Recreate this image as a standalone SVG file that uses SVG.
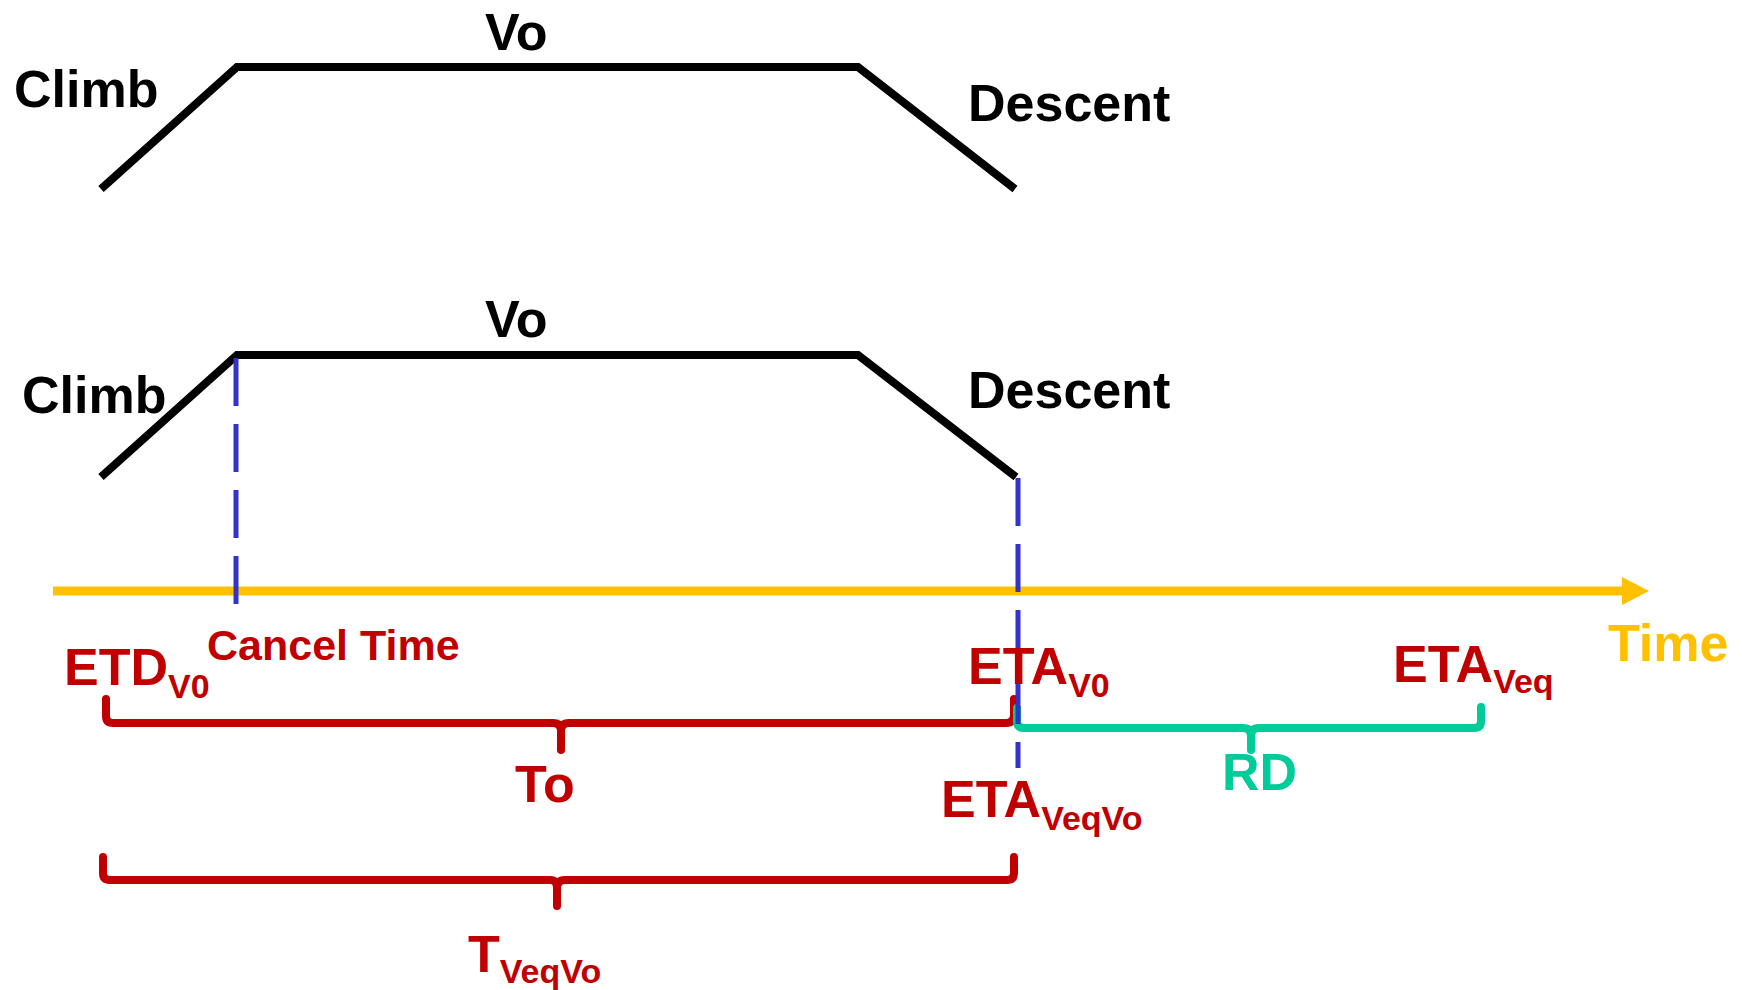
<svg xmlns="http://www.w3.org/2000/svg" width="1742" height="990" viewBox="0 0 1742 990">
<style>
text{font-family:"Liberation Sans",Arial,sans-serif;font-weight:bold;font-size:52px}
.blk{fill:#000}
.red{fill:#C00000}
.grn{fill:#00CC99}
.yel{fill:#FFC000}
.sub{font-size:34px}
.prof{stroke:#000;stroke-width:8;fill:none;stroke-linejoin:miter}
.brR{stroke:#C00000;stroke-width:8;fill:none;stroke-linecap:round;stroke-linejoin:round}
.brG{stroke:#00CC99;stroke-width:8;fill:none;stroke-linecap:round;stroke-linejoin:round}
.dash{stroke:#3333CC;stroke-width:5;stroke-dasharray:48 18;fill:none}
</style>
<defs>
<marker id="arr" markerUnits="userSpaceOnUse" markerWidth="28" markerHeight="30" refX="0" refY="14" orient="auto">
<path d="M0,0 L27,14 L0,28 Z" fill="#FFC000"/>
</marker>
</defs>
<g id="profile-top">
<polyline class="prof" points="101,189 237,67 858,67 1015,189"/>
<text class="blk" x="485" y="50">Vo</text>
<text class="blk" x="14" y="107">Climb</text>
<text class="blk" x="968" y="121">Descent</text>
</g>
<g id="profile-bottom">
<polyline class="prof" points="101,477 237,355 858,355 1016,477"/>
<text class="blk" x="485" y="337">Vo</text>
<text class="blk" x="22" y="413">Climb</text>
<text class="blk" x="968" y="408">Descent</text>
</g>
<g id="connectors">
<line x1="53" y1="591" x2="1622" y2="591" stroke="#FFC000" stroke-width="9" marker-end="url(#arr)"/>
<path class="brR" d="M106,699 V716 Q106,723 113,723 H553 Q561,723 561,731 V750 M561,731 Q561,723 569,723 H1006 Q1014,723 1014,715 V699"/>
<path class="brG" d="M1017,708 V721 Q1017,728 1024,728 H1243 Q1251,728 1251,736 V750 M1251,736 Q1251,728 1259,728 H1474 Q1481,728 1481,721 V707"/>
<path class="brR" d="M103,857 V873 Q103,880 110,880 H550 Q557,880 557,888 V906 M557,888 Q557,880 565,880 H1007 Q1014,880 1014,873 V857"/>
<line class="dash" x1="236" y1="358" x2="236" y2="606"/>
<line class="dash" x1="1018" y1="478" x2="1018" y2="768"/>
</g>
<g id="time-label"><text class="yel" x="1608" y="661">Time</text></g>
<g id="cancel-time"><text class="red" x="207" y="660" style="font-size:43px">Cancel Time</text></g>
<g id="etd-v0"><text class="red" x="64" y="685">ETD<tspan class="sub" y="698">V0</tspan></text></g>
<g id="eta-v0"><text class="red" x="968" y="684">ETA<tspan class="sub" y="697">V0</tspan></text></g>
<g id="eta-veq"><text class="red" x="1393" y="682">ETA<tspan class="sub" y="693">Veq</tspan></text></g>
<g id="to-label"><text class="red" x="515" y="802">To</text></g>
<g id="rd-label"><text class="grn" x="1222" y="790">RD</text></g>
<g id="eta-veqvo"><text class="red" x="941" y="817">ETA<tspan class="sub" y="830">VeqVo</tspan></text></g>
<g id="t-veqvo"><text class="red" x="468" y="972">T<tspan class="sub" y="983">VeqVo</tspan></text></g>
</svg>
